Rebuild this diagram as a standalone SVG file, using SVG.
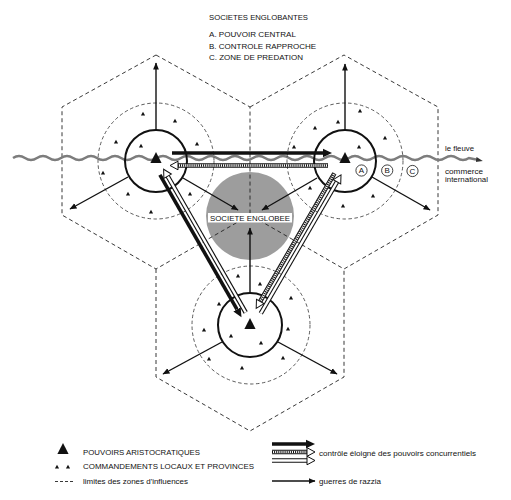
<svg xmlns="http://www.w3.org/2000/svg" xmlns:xlink="http://www.w3.org/1999/xlink" width="511" height="500" viewBox="0 0 511 500">
<style>
text{font-family:"Liberation Sans",Arial,sans-serif;fill:#111}
.hex{fill:none;stroke:#222;stroke-width:0.9;stroke-dasharray:4 3}
.zone{fill:none;stroke:#333;stroke-width:0.8;stroke-dasharray:3.5 2.5}
.core{fill:none;stroke:#111;stroke-width:2}
.razzia{fill:none;stroke:#111;stroke-width:1.4;marker-end:url(#mThin)}
.thick{fill:none;stroke:#111;stroke-width:3.6;marker-end:url(#mBig)}
.bandO{fill:none;stroke:#111;stroke-width:4.6}
.bandI{fill:none;stroke:#fff;stroke-width:2.4}
.hatch{fill:none;stroke:#111;stroke-width:2.4;stroke-dasharray:1 1.1}
.hh{marker-end:url(#mHollow)}
.river{fill:none;stroke:#7d7d7d;stroke-width:2.4}
.t7{font-size:7.5px}
.t6{font-size:6.5px}
</style>
<defs>
<marker id="mThin" markerUnits="userSpaceOnUse" viewBox="0 -4 8 8" markerWidth="8" markerHeight="8" refX="6.5" refY="0" orient="auto"><path d="M0,-2.9 L7,0 L0,2.9 Z" fill="#111"/></marker>
<marker id="mBig" markerUnits="userSpaceOnUse" viewBox="0 -5 10 10" markerWidth="10" markerHeight="10" refX="0" refY="0" orient="auto"><path d="M0,-4.2 L9,0 L0,4.2 Z" fill="#111"/></marker>
<marker id="mHollow" markerUnits="userSpaceOnUse" viewBox="-1 -6 11 12" markerWidth="11" markerHeight="12" refX="0" refY="0" orient="auto"><path d="M0,-4.3 L8,0 L0,4.3 Z" fill="#fff" stroke="#111" stroke-width="1"/></marker>
<marker id="mRiver" markerUnits="userSpaceOnUse" viewBox="0 -4 8 8" markerWidth="8" markerHeight="8" refX="0" refY="0" orient="auto"><path d="M0,-2.6 L7,0 L0,2.6 Z" fill="#333"/></marker>
<path id="st" d="M0,-2.3 L2.1,1.5 L-2.1,1.5 Z" fill="#111"/>
<path id="bt" d="M0,-6 L5.6,5 L-5.6,5 Z" fill="#111"/>
</defs>
<rect width="511" height="500" fill="#fff"/>

<g id="title">
<text class="t7" x="209" y="20" textLength="99" lengthAdjust="spacingAndGlyphs">SOCIETES ENGLOBANTES</text>
<text class="t7" x="209" y="37" textLength="87" lengthAdjust="spacingAndGlyphs">A. POUVOIR CENTRAL</text>
<text class="t7" x="209" y="48.5" textLength="107" lengthAdjust="spacingAndGlyphs">B. CONTROLE RAPPROCHE</text>
<text class="t7" x="209" y="60" textLength="94" lengthAdjust="spacingAndGlyphs">C. ZONE DE PREDATION</text>
</g>

<g id="societe-englobee-bg">
<circle cx="250" cy="216" r="44" fill="#9d9d9d"/>
</g>

<g id="zones">
<path class="hex" d="M156,55 L250,107 L250,215 L156,269 L62,215 L62,107 Z"/>
<path class="hex" d="M250,107 L344,55 L438,107 L438,215 L344,269 L250,215"/>
<path class="hex" d="M156,269 L156,377 L250,431 L344,377 L344,269"/>
</g>

<g id="river">
<path class="river" d="M13,158 q6,-4 12,0 t12,0 t12,0 t12,0 t12,0 t12,0 t12,0 t12,0 t12,0 t12,0 t12,0 t12,0 t12,0 t12,0 t12,0 t12,0 t12,0 t12,0 t12,0 t12,0 t12,0 t12,0 t12,0 t12,0 t12,0 t12,0 t12,0 t12,0 t12,0 t12,0 t12,0 t12,0 t12,0 t12,0 t12,0 t12,0 t12,0 t12,0 L476,159.5" marker-end="url(#mRiver)"/>
<text class="t6" x="445" y="151" textLength="29" lengthAdjust="spacingAndGlyphs">le fleuve</text>
<text class="t6" x="445" y="174" textLength="38" lengthAdjust="spacingAndGlyphs">commerce</text>
<text class="t6" x="445" y="181.5" textLength="43" lengthAdjust="spacingAndGlyphs">international</text>
</g>

<g id="society-tl">
<circle class="zone" cx="156" cy="161" r="58"/>
<circle class="core" cx="156" cy="161" r="31"/>
<use href="#bt" x="156" y="158"/>
<use href="#st" x="143" y="114"/><use href="#st" x="175" y="121"/><use href="#st" x="116" y="142"/>
<use href="#st" x="141" y="146"/><use href="#st" x="197" y="144"/><use href="#st" x="103" y="173"/>
<use href="#st" x="128" y="194"/><use href="#st" x="190" y="194"/><use href="#st" x="151" y="212"/>
</g>

<g id="society-tr">
<circle class="zone" cx="345" cy="161" r="58"/>
<circle class="core" cx="345" cy="161" r="31"/>
<use href="#bt" x="345" y="158"/>
<use href="#st" x="360" y="111"/><use href="#st" x="338" y="122"/><use href="#st" x="315" y="128"/>
<use href="#st" x="385" y="138"/><use href="#st" x="294" y="147"/><use href="#st" x="359" y="147"/>
<use href="#st" x="310" y="188"/><use href="#st" x="373" y="196"/><use href="#st" x="343" y="206"/>
<g font-size="8">
<circle cx="361.5" cy="170.5" r="5.6" fill="none" stroke="#111" stroke-width="0.8"/>
<text x="361.5" y="173.4" text-anchor="middle" font-size="8">A</text>
<circle cx="387.2" cy="170.5" r="5.6" fill="none" stroke="#111" stroke-width="0.8"/>
<text x="387.2" y="173.4" text-anchor="middle" font-size="8">B</text>
<circle cx="412.5" cy="171" r="5.6" fill="none" stroke="#111" stroke-width="0.8"/>
<text x="412.5" y="173.9" text-anchor="middle" font-size="8">C</text>
</g>
</g>

<g id="society-b">
<circle class="zone" cx="251" cy="325" r="59"/>
<circle class="core" cx="250" cy="325" r="32"/>
<use href="#bt" x="250" y="324"/>
<use href="#st" x="238" y="276"/><use href="#st" x="260" y="284"/><use href="#st" x="219" y="304"/>
<use href="#st" x="291" y="298"/><use href="#st" x="204" y="330"/><use href="#st" x="288" y="329"/>
<use href="#st" x="231" y="336"/><use href="#st" x="261" y="343"/><use href="#st" x="209" y="359"/>
<use href="#st" x="283" y="358"/><use href="#st" x="242" y="368"/>
</g>

<g id="connectors">
<!-- guerres de razzia -->
<path class="razzia" d="M156,130 L156,63"/>
<path class="razzia" d="M128,177 L70,209"/>
<path class="razzia" d="M183,178 L238,210"/>
<path class="razzia" d="M345,130 L345,64"/>
<path class="razzia" d="M372,177 L430,210"/>
<path class="razzia" d="M317,178 L262,210"/>
<path class="razzia" d="M250,293 L250,228"/>
<path class="razzia" d="M222,342 L163,374"/>
<path class="razzia" d="M278,342 L337,374"/>
<!-- top pair -->
<path class="thick" d="M172,153 L323,153"/>
<path class="bandO" d="M328,165.5 L178,165.5"/>
<path class="bandI" d="M328,165.5 L178,165.5"/>
<path class="hatch hh" d="M328,165.5 L178,165.5"/>
<!-- left pair -->
<path class="thick" d="M159.9,174.9 L237,309.4"/>
<path class="bandO" d="M245.7,312.5 L167.6,176.2"/>
<path class="bandI hh" d="M245.7,312.5 L167.6,176.2"/>
<!-- right pair -->
<path class="bandO" d="M334.4,173.3 L260.2,301.4"/>
<path class="bandI" d="M334.4,173.3 L260.2,301.4"/>
<path class="hatch hh" d="M334.4,173.3 L260.2,301.4"/>
<path class="bandO" d="M260.8,313.3 L337,181.8"/>
<path class="bandI hh" d="M260.8,313.3 L337,181.8"/>
</g>

<g id="societe-englobee">
<rect x="208" y="213" width="84" height="9.5" fill="#fff"/>
<text x="250" y="220.8" text-anchor="middle" font-size="8" textLength="80" lengthAdjust="spacingAndGlyphs">SOCIETE ENGLOBEE</text>
</g>

<g id="legend">
<use href="#bt" x="63" y="449"/>
<text class="t7" x="83" y="454.5" textLength="117" lengthAdjust="spacingAndGlyphs">POUVOIRS ARISTOCRATIQUES</text>
<use href="#st" x="57" y="467"/><use href="#st" x="68" y="467"/>
<text class="t7" x="83" y="468.7" textLength="171" lengthAdjust="spacingAndGlyphs">COMMANDEMENTS LOCAUX ET PROVINCES</text>
<path d="M55,481.5 L74,481.5" stroke="#222" stroke-width="0.9" stroke-dasharray="3 2" fill="none"/>
<text class="t7" x="83" y="484" textLength="105" lengthAdjust="spacingAndGlyphs">limites des zones d'influences</text>
<path class="thick" d="M272,444 L306,444"/>
<path class="bandO" d="M272,452 L307,452"/>
<path class="bandI" d="M272,452 L307,452"/>
<path class="hatch hh" d="M272,452 L307,452"/>
<path class="bandO" d="M272,460.5 L307,460.5"/>
<path class="bandI hh" d="M272,460.5 L307,460.5"/>
<text class="t6" x="319" y="456" textLength="157" lengthAdjust="spacingAndGlyphs">contrôle éloigné des pouvoirs concurrentiels</text>
<path class="razzia" d="M272,481 L315,481"/>
<text class="t6" x="319" y="483.5" textLength="62" lengthAdjust="spacingAndGlyphs">guerres de razzia</text>
</g>
</svg>
